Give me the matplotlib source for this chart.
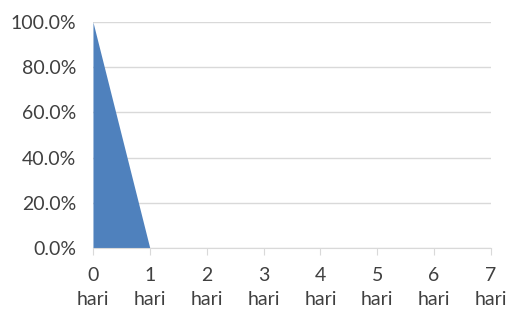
import matplotlib
matplotlib.use("Agg")
import matplotlib.pyplot as plt
from matplotlib.ticker import PercentFormatter

days = [0, 1, 2, 3, 4, 5, 6, 7]
share = [1.0, 0.0, 0.0, 0.0, 0.0, 0.0, 0.0, 0.0]
tick_labels = [f"{d}\nhari" for d in days]

plt.rcParams['font.family'] = ['Lato', 'DejaVu Sans']

fig = plt.figure(figsize=(5.08, 3.12), dpi=100)
ax = fig.add_axes([0.183, 0.205, 0.7835, 0.7245])

ax.fill_between(days, share, 0, color="#4f81bd", linewidth=0)

ax.set_xlim(0, 7)
ax.set_ylim(0, 1.0)
ax.set_yticks([0, 0.2, 0.4, 0.6, 0.8, 1.0])
ax.yaxis.set_major_formatter(PercentFormatter(1.0, decimals=1))
ax.set_xticks(days)
ax.set_xticklabels(tick_labels, linespacing=1.45)

ax.grid(axis="y", color="#d9d9d9", linewidth=1)
ax.set_axisbelow(True)
for s in ["top", "right", "left"]:
    ax.spines[s].set_visible(False)
ax.spines["bottom"].set_color("#d9d9d9")
ax.tick_params(axis="y", length=0, pad=12, labelsize=14, labelcolor="#404040")
ax.tick_params(axis="x", length=5, color="#d9d9d9", pad=9, labelsize=14, labelcolor="#404040")

fig.savefig("out.png", dpi=100)
